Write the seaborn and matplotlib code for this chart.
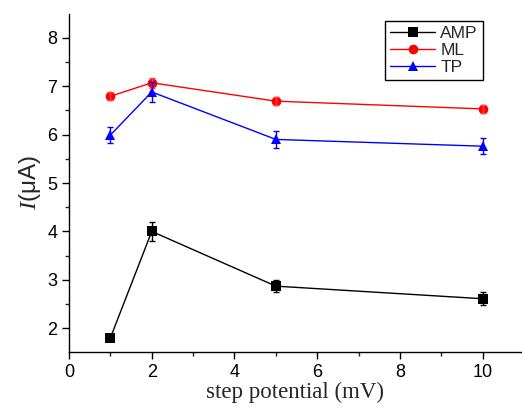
import numpy as np
import pandas as pd
import seaborn as sns
import matplotlib
matplotlib.use("Agg")
import matplotlib.pyplot as plt
from matplotlib.ticker import MultipleLocator

# data
step = [1, 2, 5, 10]
amp = [1.80, 4.00, 2.87, 2.61]
amp_err = [0.06, 0.20, 0.13, 0.13]
ml = [6.79, 7.07, 6.69, 6.53]
ml_err = [0.08, 0.10, 0.08, 0.09]
tp = [5.99, 6.88, 5.90, 5.76]
tp_err = [0.17, 0.20, 0.18, 0.17]
series = ["AMP", "ML", "TP"]

sns.set_style("ticks")
plt.rcParams["font.family"] = ["Liberation Sans", "DejaVu Sans"]
plt.rcParams["mathtext.fontset"] = "custom"
plt.rcParams["mathtext.it"] = "Liberation Serif:italic"
plt.rcParams["mathtext.rm"] = "Liberation Sans"

df = pd.DataFrame({
    "step": step * 3,
    "I": amp + ml + tp,
    "series": [s for s in series for _ in step],
})
errs = {"AMP": amp_err, "ML": ml_err, "TP": tp_err}
vals = {"AMP": amp, "ML": ml, "TP": tp}
colors = {"AMP": "#000000", "ML": "#ff0000", "TP": "#0000ff"}
ecolors = {"AMP": "#000000", "ML": "#ff4040", "TP": "#0000ff"}
markers = {"AMP": "s", "ML": "o", "TP": "^"}

fig = plt.figure(figsize=(5.22, 4.12), dpi=100)
ax = fig.add_axes([69/522, 60/412, 453/522, 338/412])

sns.lineplot(data=df, x="step", y="I", hue="series", style="series",
             palette=colors, markers=markers, dashes=False, ax=ax,
             linewidth=1.0, markersize=7, markeredgewidth=0, zorder=3,
             legend=True)

for s in series:
    ax.errorbar(step, vals[s], yerr=errs[s], fmt="none", ecolor=ecolors[s],
                elinewidth=1.0, capsize=2.5, capthick=1.0, zorder=4)

ax.set_xlim(0, 10.95)
ax.set_ylim(1.51, 8.49)
ax.xaxis.set_major_locator(MultipleLocator(2))
ax.xaxis.set_minor_locator(MultipleLocator(1))
ax.yaxis.set_major_locator(MultipleLocator(1))
ax.yaxis.set_minor_locator(MultipleLocator(0.5))
ax.set_yticks([2, 3, 4, 5, 6, 7, 8])
ax.tick_params(which="major", direction="out", length=5, width=1, labelsize=13, colors="black")
ax.tick_params(which="minor", direction="out", length=3, width=1)
for sp in ["top", "right"]:
    ax.spines[sp].set_visible(False)
for sp in ["left", "bottom"]:
    ax.spines[sp].set_color("black")
    ax.spines[sp].set_linewidth(1.0)

ax.set_xlabel("step potential (mV)", family="Liberation Serif", fontsize=16.5, labelpad=1)
ax.set_ylabel("$I$(μA)", family="Liberation Sans", fontsize=17.5, labelpad=3)

leg = ax.legend(loc="upper right", bbox_to_anchor=(0.914, 0.979), frameon=True,
                fancybox=False, edgecolor="black", fontsize=12.5, handlelength=2.6,
                borderpad=0.3, labelspacing=0.1, handletextpad=0.3, borderaxespad=0)
leg.get_frame().set_linewidth(1.0)
leg.get_frame().set_alpha(1)

fig.savefig("out.png", dpi=100)
